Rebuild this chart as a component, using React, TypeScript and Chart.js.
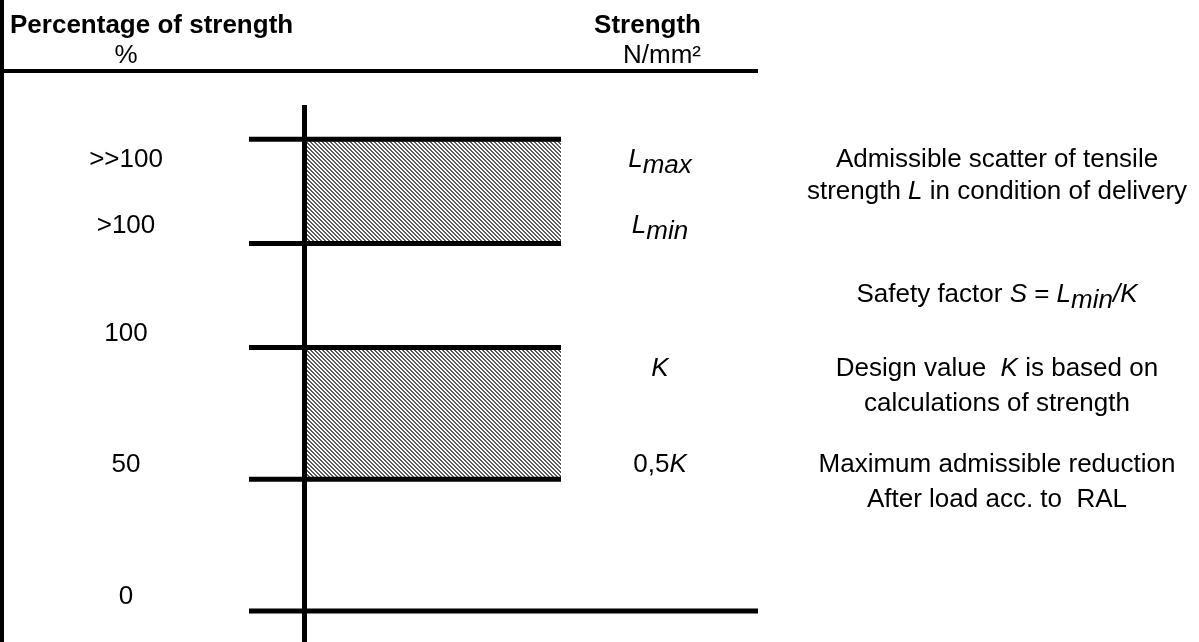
import React, { useEffect, useRef } from "react";
import { Chart, registerables } from "chart.js";

Chart.register(...registerables);

// ---- data (schematic strength levels, in % of design strength K) ----
const levelNames = ["0", "0,5K", "K", "Lmin", "Lmax"];
const levelValues = [0, 50, 100, 139.5, 179];
const bandLower = [50, 139.5]; // 0,5K .. K  and  Lmin .. Lmax
const bandUpper = [100, 179];
const percentLabels = ["0", "50", "100", ">100", ">>100"];
const percentLabelRows = [2.7, 52.8, 102.5, 143.5, 168.5];

type Seg = { t: string; i?: boolean; sub?: boolean; b?: boolean };

const strengthLabels: Seg[][] = [
  [{ t: "L", i: true }, { t: "max", i: true, sub: true }],
  [{ t: "L", i: true }, { t: "min", i: true, sub: true }],
  [{ t: "K", i: true }],
  [{ t: "0,5" }, { t: "K", i: true }],
];
const strengthLabelRows = [168.5, 143.5, 89.2, 52.8];

const descriptions: Seg[][] = [
  [{ t: "Admissible scatter of tensile" }],
  [{ t: "strength " }, { t: "L", i: true }, { t: " in condition of delivery" }],
  [
    { t: "Safety factor " },
    { t: "S", i: true },
    { t: " = " },
    { t: "L", i: true },
    { t: "min", i: true, sub: true },
    { t: "/K", i: true },
  ],
  [{ t: "Design value  " }, { t: "K", i: true }, { t: " is based on" }],
  [{ t: "calculations of strength" }],
  [{ t: "Maximum admissible reduction" }],
  [{ t: "After load acc. to  RAL" }],
];
const descriptionRows = [168.5, 156.4, 117.3, 89.2, 75.9, 52.8, 39.5];

// ---- layout (not data) ----
const W = 1199;
const H = 642;
const Y_MIN = -11.765;
const Y_MAX = 231.88;
const AXIS_TOP = 192;
const HEADER_LEVEL = 204.9;
const TITLE_ROW = 219.4;
const UNIT_ROW = 208.0;
const X_BORDER = 2;
const X_TICK = 249;
const X_AXIS = 304.5;
const X_BOX = 561;
const X_BASE = 758;
const X_LEFT_LABEL = 126;
const X_MID = 660;
const X_RIGHT = 997;
const X_TITLE = 10;
const X_UNIT_RIGHT = 701;
const FONT = '"Liberation Sans", Arial, Helvetica, sans-serif';
const SIZE = 26;
const SUB_DROP = 6;

function drawRich(
  ctx: CanvasRenderingContext2D,
  segs: Seg[],
  x: number,
  y: number,
  align: "left" | "center" | "right"
) {
  const fontOf = (s: Seg) =>
    `${s.i ? "italic " : ""}${s.b ? "bold " : ""}${SIZE}px ${FONT}`;
  const widths = segs.map((s) => {
    ctx.font = fontOf(s);
    return ctx.measureText(s.t).width;
  });
  const total = widths.reduce((a, b) => a + b, 0);
  let cx = align === "center" ? x - total / 2 : align === "right" ? x - total : x;
  ctx.textAlign = "left";
  ctx.textBaseline = "alphabetic";
  segs.forEach((s, k) => {
    ctx.font = fontOf(s);
    ctx.fillText(s.t, cx, y + (s.sub ? SUB_DROP : 0));
    cx += widths[k];
  });
}

const textPlugin = {
  id: "schemeText",
  afterDatasetsDraw(chart: any) {
    const { ctx, scales } = chart;
    const xs = scales.x;
    const ys = scales.y;
    const px = (v: number) => xs.getPixelForValue(v);
    const py = (v: number) => ys.getPixelForValue(v);
    ctx.save();
    ctx.fillStyle = "#000";
    drawRich(ctx, [{ t: "Percentage of strength", b: true }], px(X_TITLE), py(TITLE_ROW), "left");
    drawRich(ctx, [{ t: "%" }], px(X_LEFT_LABEL), py(UNIT_ROW), "center");
    drawRich(ctx, [{ t: "Strength", b: true }], px(X_UNIT_RIGHT), py(TITLE_ROW), "right");
    drawRich(ctx, [{ t: "N/mm²" }], px(X_UNIT_RIGHT), py(UNIT_ROW), "right");
    percentLabels.forEach((l, k) =>
      drawRich(ctx, [{ t: l }], px(X_LEFT_LABEL), py(percentLabelRows[k]), "center")
    );
    strengthLabels.forEach((l, k) =>
      drawRich(ctx, l, px(X_MID), py(strengthLabelRows[k]), "center")
    );
    descriptions.forEach((l, k) =>
      drawRich(ctx, l, px(X_RIGHT), py(descriptionRows[k]), "center")
    );
    ctx.restore();
  },
};

function makeHatch(ctx: CanvasRenderingContext2D): CanvasPattern | string {
  const c = document.createElement("canvas");
  c.width = 4;
  c.height = 4;
  const g = c.getContext("2d");
  if (!g) return "#aaa";
  g.fillStyle = "#ffffff";
  g.fillRect(0, 0, 4, 4);
  g.fillStyle = "#5a5a5a";
  for (let y = 0; y < 4; y++)
    for (let x = 0; x < 4; x++)
      if ((((x - y) % 4) + 4) % 4 < 2) g.fillRect(x, y, 1, 1);
  return ctx.createPattern(c, "repeat") || "#aaa";
}

export default function App() {
  const ref = useRef<HTMLCanvasElement | null>(null);

  useEffect(() => {
    const canvas = ref.current;
    if (!canvas) return;
    const ctx = canvas.getContext("2d") as CanvasRenderingContext2D;
    const hatch = makeHatch(ctx);

    const lineDs = (pts: { x: number; y: number }[], width: number, label: string) => ({
      label,
      data: pts,
      borderColor: "#000",
      borderWidth: width,
      borderCapStyle: "butt",
      pointRadius: 0,
      fill: false,
      tension: 0,
    });

    const datasets: any[] = [];
    bandUpper.forEach((hi, k) => {
      datasets.push({
        label: "band-top-" + k,
        data: [
          { x: X_AXIS, y: hi },
          { x: X_BOX, y: hi },
        ],
        borderColor: "rgba(0,0,0,0)",
        borderWidth: 0,
        pointRadius: 0,
        backgroundColor: hatch,
        fill: "+1",
      });
      datasets.push({
        label: "band-bottom-" + k,
        data: [
          { x: X_AXIS, y: bandLower[k] },
          { x: X_BOX, y: bandLower[k] },
        ],
        borderColor: "rgba(0,0,0,0)",
        borderWidth: 0,
        pointRadius: 0,
        fill: false,
      });
    });
    levelValues.forEach((v, k) => {
      datasets.push(
        lineDs(
          [
            { x: X_TICK, y: v },
            { x: v === 0 ? X_BASE : X_BOX, y: v },
          ],
          5,
          levelNames[k]
        )
      );
    });
    datasets.push(
      lineDs(
        [
          { x: X_AXIS, y: AXIS_TOP },
          { x: X_AXIS, y: Y_MIN },
        ],
        5,
        "axis"
      )
    );
    datasets.push(
      lineDs(
        [
          { x: X_BORDER, y: Y_MAX },
          { x: X_BORDER, y: Y_MIN },
        ],
        4,
        "border"
      )
    );
    datasets.push(
      lineDs(
        [
          { x: 0, y: HEADER_LEVEL },
          { x: X_BASE, y: HEADER_LEVEL },
        ],
        4,
        "header"
      )
    );

    const chart = new Chart(canvas, {
      type: "line",
      data: { datasets },
      options: {
        animation: false,
        responsive: true,
        maintainAspectRatio: false,
        events: [],
        layout: { padding: 0 },
        scales: {
          x: { type: "linear", min: 0, max: W, display: false },
          y: { type: "linear", min: Y_MIN, max: Y_MAX, display: false },
        },
        plugins: {
          legend: { display: false },
          tooltip: { enabled: false },
          filler: { drawTime: "beforeDatasetsDraw" },
        },
      } as any,
      plugins: [textPlugin],
    });
    return () => chart.destroy();
  }, []);

  return (
    <div
      style={{
        position: "absolute",
        left: 0,
        top: 0,
        width: W,
        height: H,
        background: "#fff",
      }}
    >
      <canvas ref={ref} />
    </div>
  );
}
